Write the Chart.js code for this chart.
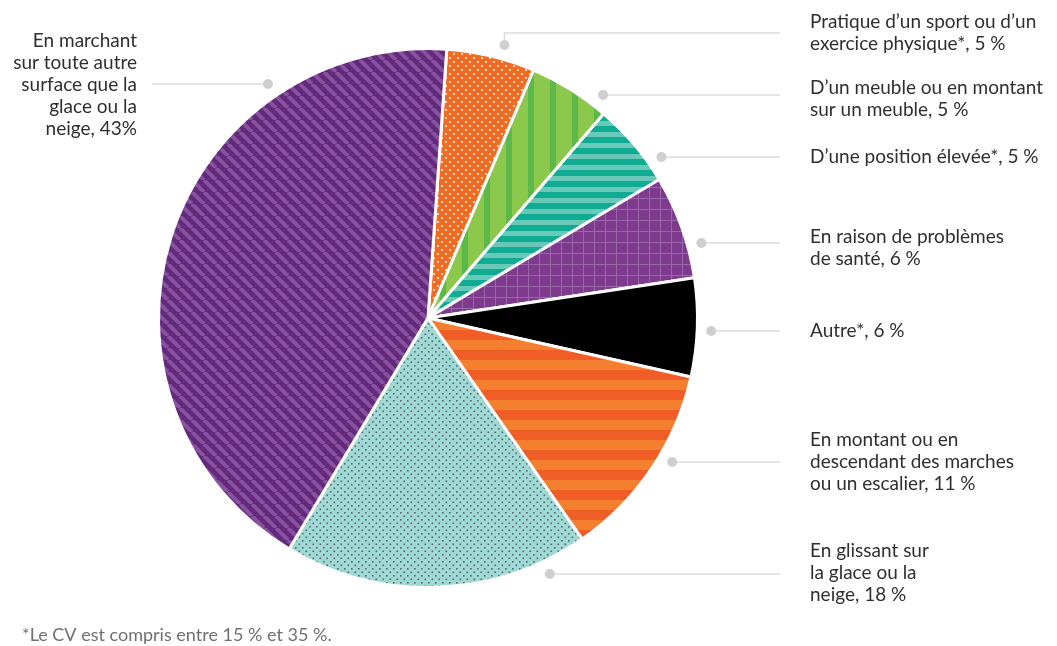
<!DOCTYPE html>
<html>
<head>
<meta charset="utf-8">
<script src="https://cdn.jsdelivr.net/npm/chart.js@4"></script>
<style>
  body { margin: 0; background: #fff; }
  #wrap { width: 1057px; height: 646px; position: relative; }
</style>
</head>
<body>
<div id="wrap"><canvas id="pie" width="1057" height="646"></canvas></div>
<script>
// categories, clockwise from the top
var categories = ["Pratique d’un sport ou d’un exercice physique*", "D’un meuble ou en montant sur un meuble",
  "D’une position élevée*", "En raison de problèmes de santé", "Autre*",
  "En montant ou en descendant des marches ou un escalier", "En glissant sur la glace ou la neige",
  "En marchant sur toute autre surface que la glace ou la neige"]
// slice sizes as drawn in the picture (printed labels are rounded)
var values = [5.3, 4.9, 5.1, 6.2, 5.9, 11.8, 18.3, 42.5]
var labelLines = [
  ["Pratique d’un sport ou d’un", "exercice physique*, 5 %"],
  ["D’un meuble ou en montant", "sur un meuble, 5 %"],
  ["D’une position élevée*, 5 %"],
  ["En raison de problèmes", "de santé, 6 %"],
  ["Autre*, 6 %"],
  ["En montant ou en", "descendant des marches", "ou un escalier, 11 %"],
  ["En glissant sur", "la glace ou la", "neige, 18 %"],
  ["En marchant", "sur toute autre", "surface que la", "glace ou la", "neige, 43%"]
]

// label layout (y of the leader line, y of the dot, first text line y)
var lineY = [33, 95, 157, 243, 331, 462, 574, 84]
var dotY = [45, 95, 157, 243, 331, 462, 574, 84]
var textY = [22, 88, 157, 237, 331, 440, 551, 41]
var side = [1, 1, 1, 1, 1, 1, 1, -1]

function makePattern(w, h, draw) {
  var c = document.createElement('canvas')
  c.width = w; c.height = h
  var g = c.getContext('2d')
  draw(g, w, h)
  return g.createPattern(c, 'repeat')
}

var fills = [
  // orange with white dots
  makePattern(8, 8, function (g, w, h) {
    g.fillStyle = '#f26b22'; g.fillRect(0, 0, w, h)
    g.fillStyle = '#fff4ea'
    g.beginPath(); g.arc(2, 2, 1.1, 0, Math.PI * 2); g.fill()
    g.beginPath(); g.arc(6, 6, 1.1, 0, Math.PI * 2); g.fill()
  }),
  // green with vertical stripes
  makePattern(22, 4, function (g, w, h) {
    g.fillStyle = '#8cc84b'; g.fillRect(0, 0, w, h)
    g.fillStyle = '#5cb848'; g.fillRect(0, 0, 6, h)
  }),
  // teal horizontal stripes
  makePattern(4, 11, function (g, w, h) {
    g.fillStyle = '#10ab93'; g.fillRect(0, 0, w, h)
    g.fillStyle = '#68c9b9'; g.fillRect(0, 0, w, 5)
  }),
  // purple grid
  makePattern(11, 11, function (g, w, h) {
    g.fillStyle = '#7e3b8e'; g.fillRect(0, 0, w, h)
    g.fillStyle = '#9a67aa'; g.fillRect(0, 0, w, 1); g.fillRect(0, 0, 1, h)
  }),
  '#000000',
  // orange horizontal stripes
  makePattern(4, 20, function (g, w, h) {
    g.fillStyle = '#f15d26'; g.fillRect(0, 0, w, h)
    g.fillStyle = '#f4802f'; g.fillRect(0, 0, w, 10)
  }),
  // light teal with dark dots
  makePattern(7, 7, function (g, w, h) {
    g.fillStyle = '#9fd9d3'; g.fillRect(0, 0, w, h)
    g.fillStyle = '#59637a'
    g.fillRect(1, 1, 1.6, 1.6); g.fillRect(4.5, 4.5, 1.6, 1.6)
  }),
  // purple diagonal stripes
  makePattern(12, 12, function (g, w, h) {
    g.fillStyle = '#632a7c'; g.fillRect(0, 0, w, h)
    g.strokeStyle = '#8852a1'; g.lineWidth = 4
    for (var k = -1; k <= 1; k++) {
      g.beginPath(); g.moveTo(k * w, 0); g.lineTo(k * w + w, h); g.stroke()
    }
  })
]

var leaders = {
  id: 'leaders',
  afterDraw: function (chart) {
    var ctx = chart.ctx
    var arcs = chart.getDatasetMeta(0).data
    ctx.save()
    ctx.font = '19px Lato'
    ctx.textBaseline = 'middle'
    arcs.forEach(function (arc, i) {
      var p = arc.getProps(['x', 'y', 'outerRadius'], true)
      var r = p.outerRadius + 14
      var dy = dotY[i] - p.y
      var dx = side[i] * Math.sqrt(Math.max(0, r * r - dy * dy))
      var x0 = p.x + dx
      var lineEnd = side[i] > 0 ? 780 : 152
      ctx.strokeStyle = '#dcdcdc'
      ctx.lineWidth = 1.5
      ctx.beginPath()
      ctx.moveTo(x0, dotY[i])
      ctx.lineTo(x0, lineY[i])
      ctx.lineTo(lineEnd, lineY[i])
      ctx.stroke()
      ctx.fillStyle = '#cfcfcf'
      ctx.beginPath(); ctx.arc(x0, dotY[i], 5, 0, Math.PI * 2); ctx.fill()

      ctx.fillStyle = '#2f2f2f'
      ctx.textAlign = side[i] > 0 ? 'left' : 'right'
      var tx = side[i] > 0 ? 810 : 137
      labelLines[i].forEach(function (t, j) {
        ctx.fillText(t, tx, textY[i] + j * 22)
      })
    })
    ctx.fillStyle = '#707070'
    ctx.font = '18px Lato'
    ctx.textAlign = 'left'
    ctx.fillText('*Le CV est compris entre 15 % et 35 %.', 22, 635)
    ctx.restore()
  }
}

new Chart(document.getElementById('pie'), {
  type: 'pie',
  data: {
    labels: categories,
    datasets: [{
      data: values,
      backgroundColor: fills,
      borderColor: '#ffffff',
      borderWidth: 3
    }]
  },
  options: {
    responsive: false,
    animation: false,
    rotation: 4,
    layout: { padding: { left: 157, right: 358, top: 47, bottom: 57 } },
    plugins: { legend: { display: false }, tooltip: { enabled: false } }
  },
  plugins: [leaders]
})
</script>
</body>
</html>
